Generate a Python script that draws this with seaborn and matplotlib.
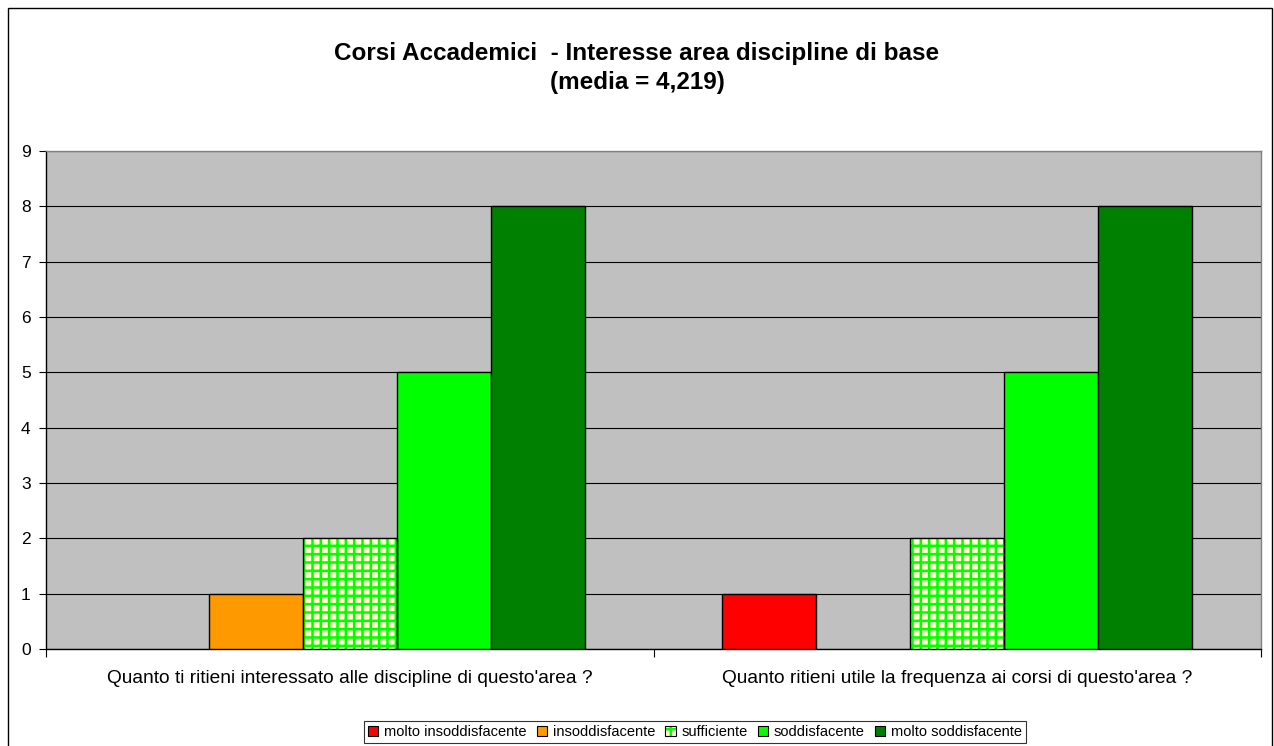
import matplotlib
matplotlib.use("Agg")
import matplotlib.pyplot as plt
import seaborn as sns
import pandas as pd
from matplotlib.patches import Patch, Rectangle

categories = ["Quanto ti ritieni interessato alle discipline di questo'area ?",
              "Quanto ritieni utile la frequenza ai corsi di questo'area ?"]
levels = ["molto insoddisfacente", "insoddisfacente", "sufficiente",
          "soddisfacente", "molto soddisfacente"]
values_q1 = [0, 1, 2, 5, 8]
values_q2 = [1, 0, 2, 5, 8]
colors = ["#FF0000", "#FF9900", "#FFFFCC", "#00FF00", "#008000"]
title = "Corsi Accademici  - Interesse area discipline di base\n(media = 4,219)"

rows = []
for cat, vals in zip(categories, [values_q1, values_q2]):
    for lev, v in zip(levels, vals):
        rows.append({"domanda": cat, "giudizio": lev, "n": v})
df = pd.DataFrame(rows)

sns.set_style("white")
plt.rcParams['font.family'] = ['Liberation Sans', 'DejaVu Sans']
plt.rcParams['text.color'] = 'black'
plt.rcParams['xtick.color'] = 'black'
plt.rcParams['ytick.color'] = 'black'
plt.rcParams['hatch.linewidth'] = 1.8

fig = plt.figure(figsize=(12.74, 7.46), dpi=100)
ax = fig.add_axes([46/1274, 1-649/746, (1261-46)/1274, (649-151)/746])
ax.set_facecolor("#C0C0C0")

sns.barplot(data=df, x="domanda", y="n", hue="giudizio", hue_order=levels,
            order=categories, palette=colors, saturation=1, width=0.773, gap=0,
            edgecolor="black", linewidth=1.0, ax=ax, legend=False, zorder=3)

n_cat = len(categories)
for i, p in enumerate(ax.patches[:n_cat * len(levels)]):
    lev_idx = i // n_cat
    if p.get_height() == 0:
        p.set_visible(False)
        continue
    if levels[lev_idx] == "sufficiente":
        p.set_edgecolor("#00FF00")
        p.set_hatch("++")
        p.set_linewidth(0)
        ax.add_patch(Rectangle(p.get_xy(), p.get_width(), p.get_height(),
                               fill=False, edgecolor="black", linewidth=1.0, zorder=4))

ax.set_ylim(0, 9)
ax.set_xlim(-0.5, 1.5)
ax.set_yticks(range(0, 10))
ax.yaxis.grid(True, color="black", linewidth=0.8, zorder=0)
ax.set_axisbelow(True)
ax.tick_params(axis="y", length=5, width=0.8, color="black", labelsize=12.5, pad=6, left=True)
ax.set_xticks([0, 1])
ax.set_xticklabels(categories, fontsize=13.8)
ax.set_xticks([-0.5, 0.5, 1.5], minor=True)
ax.tick_params(axis="x", which="major", length=0, pad=15)
ax.tick_params(axis="x", which="minor", length=6, width=0.8, color="black", bottom=True)
ax.set_xlabel("")
ax.set_ylabel("")
for s in ax.spines.values():
    s.set_color("#808080")
    s.set_linewidth(1.0)
ax.spines["bottom"].set_color("black")
ax.spines["left"].set_color("black")

fig.text(0.5, 1-68/746, title, ha="center", va="center", fontsize=17.5,
         fontweight="bold", linespacing=1.3, color="black")

handles = []
for lev, c in zip(levels, colors):
    if lev == "sufficiente":
        handles.append((Patch(facecolor=c, edgecolor="#00FF00", hatch="++", linewidth=0),
                        Patch(facecolor="none", edgecolor="black", linewidth=0.8)))
    else:
        handles.append(Patch(facecolor=c, edgecolor="black", linewidth=0.8))
leg = fig.legend(handles, levels, loc="center", bbox_to_anchor=(695/1274, 1-732/746),
                 ncol=5, fontsize=10.5, frameon=True, fancybox=False, shadow=False,
                 handlelength=0.7, handleheight=0.7, handletextpad=0.4,
                 columnspacing=0.7, borderpad=0.3, edgecolor="black", borderaxespad=0)
leg.get_frame().set_linewidth(0.8)

fig.patches.append(Rectangle((7.5/1274, -0.01), (1272-7.5)/1274, 1-8/746+0.01,
                             transform=fig.transFigure, fill=False,
                             edgecolor="black", linewidth=1.0))

fig.savefig("out.png", dpi=100, facecolor="white")
